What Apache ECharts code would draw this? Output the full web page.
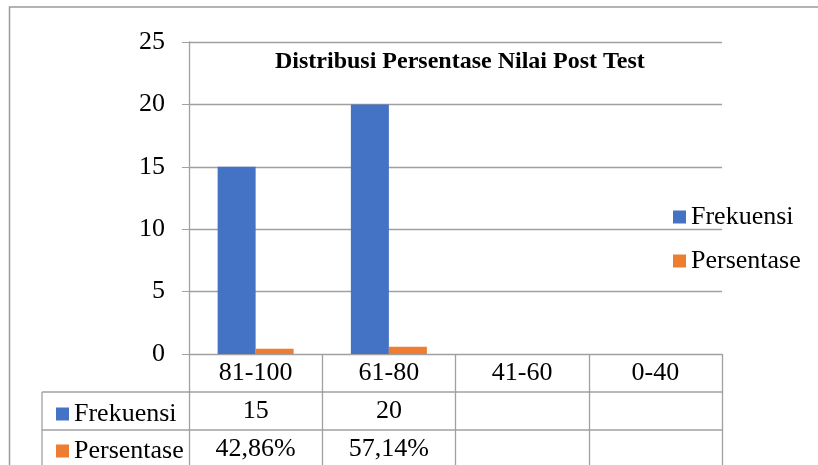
<!DOCTYPE html>
<html>
<head>
<meta charset="utf-8">
<script src="https://cdn.jsdelivr.net/npm/echarts@6/dist/echarts.min.js"></script>
<style>html,body{margin:0;padding:0;background:#fff}#c{width:818px;height:465px}</style>
</head>
<body>
<div id="c"></div>
<script>
// ---- data ----
const categories = ['81-100', '61-80', '41-60', '0-40'];
const frekuensi = [15, 20, null, null];
const persentase = [0.4286, 0.5714, null, null];
const seriesNames = ['Frekuensi', 'Persentase'];
const yTicks = { min: 0, max: 25, interval: 5 };

// ---- layout ----
const FONT = 'Liberation Serif';
const G = { left: 189, right: 96, top: 42, bottom: 111 }; // plot: x 189..722, y 42..354
const plotRight = 818 - G.right;
const baseY = 465 - G.bottom;
const rowH = 38;
const tableLeft = 42;
const gray = '#a0a0a0';

const fmtPct = v => v == null ? '' : (v * 100).toFixed(2).replace('.', ',') + '%';
const fmtNum = v => v == null ? '' : String(v);

const chart = echarts.init(document.getElementById('c'), null, { renderer: 'canvas' });

const labelStyle = { fontFamily: FONT, fontSize: 26, color: '#000' };

chart.setOption({
  animation: false,
  backgroundColor: '#fff',
  title: {
    text: 'Distribusi Persentase Nilai Post Test',
    left: 270, top: 45,
    textStyle: { fontFamily: FONT, fontSize: 24, fontWeight: 'bold', color: '#000' }
  },
  legend: [
    {
      data: seriesNames, orient: 'vertical', left: 668, top: 199, height: 150,
      icon: 'rect', itemWidth: 13, itemHeight: 13, itemGap: 18,
      textStyle: labelStyle, selectedMode: false
    },
    {
      data: seriesNames, orient: 'vertical', left: 51, top: baseY + rowH + 4, height: 150,
      icon: 'rect', itemWidth: 13, itemHeight: 13, itemGap: 11,
      textStyle: labelStyle, selectedMode: false
    }
  ],
  grid: { left: G.left, right: G.right, top: G.top, bottom: G.bottom, containLabel: false },
  xAxis: [
    {
      type: 'category', data: categories, position: 'bottom',
      axisLine: { show: true, lineStyle: { color: gray, width: 1 } },
      axisTick: { show: true, length: 130, lineStyle: { color: gray, width: 1.3 } },
      axisLabel: Object.assign({ margin: 6, interval: 0 }, labelStyle)
    },
    {
      type: 'category', data: frekuensi.map(fmtNum), position: 'bottom', offset: rowH,
      axisLine: { show: false }, axisTick: { show: false },
      axisLabel: Object.assign({ margin: 6, interval: 0 }, labelStyle)
    },
    {
      type: 'category', data: persentase.map(fmtPct), position: 'bottom', offset: rowH * 2,
      axisLine: { show: false }, axisTick: { show: false },
      axisLabel: Object.assign({ margin: 6, interval: 0 }, labelStyle)
    }
  ],
  yAxis: {
    type: 'value', min: yTicks.min, max: yTicks.max, interval: yTicks.interval,
    axisLine: { show: true, lineStyle: { color: gray, width: 1.3 } },
    axisTick: { show: true, length: 7, lineStyle: { color: gray } },
    splitLine: { show: true, lineStyle: { color: gray, width: 1.3 } },
    axisLabel: Object.assign({ margin: 24 }, labelStyle)
  },
  series: [
    { name: seriesNames[0], type: 'bar', data: frekuensi, itemStyle: { color: '#4472C4' }, barWidth: 38, barGap: '0%' },
    { name: seriesNames[1], type: 'bar', data: persentase, itemStyle: { color: '#ED7D31' }, barWidth: 38, barGap: '0%' }
  ],
  graphic: [
    { type: 'rect', shape: { x: 9.5, y: 7, width: 840, height: 500 }, style: { fill: null, stroke: '#9a9a9a', lineWidth: 1.5 }, silent: true, z: 100 },
    { type: 'line', shape: { x1: tableLeft, y1: baseY + rowH, x2: plotRight, y2: baseY + rowH }, style: { stroke: gray, lineWidth: 1.3 }, silent: true },
    { type: 'line', shape: { x1: tableLeft, y1: baseY + rowH * 2, x2: plotRight, y2: baseY + rowH * 2 }, style: { stroke: gray, lineWidth: 1.3 }, silent: true },
    { type: 'line', shape: { x1: tableLeft, y1: baseY + rowH, x2: tableLeft, y2: 480 }, style: { stroke: gray, lineWidth: 1.3 }, silent: true }
  ]
});
</script>
</body>
</html>
